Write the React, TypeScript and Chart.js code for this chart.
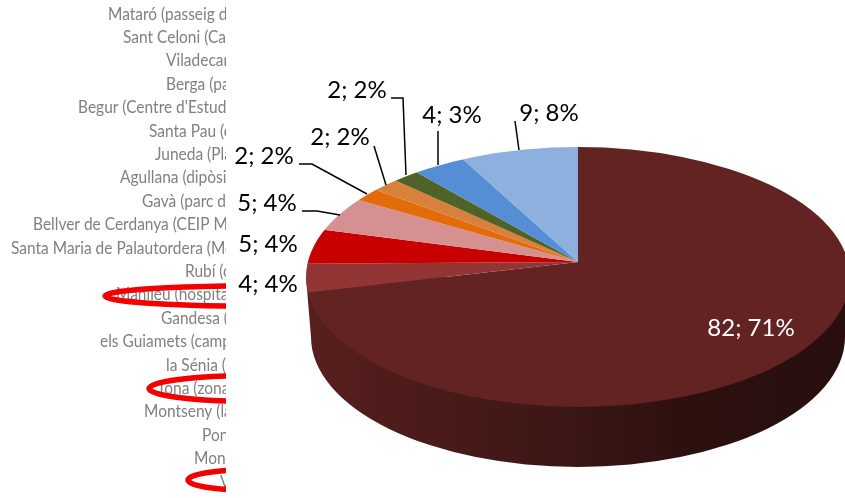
import React, { useEffect, useRef } from "react";
import { Chart, registerables } from "chart.js";

Chart.register(...registerables);

const sliceValues = [82, 4, 5, 5, 2, 2, 2, 4, 9];
const sliceColors = ["#622322", "#913535", "#c80000", "#d59092", "#e36c0a", "#d9813c", "#4f6228", "#558ed5", "#8db0df"];
const sliceLabels = ["82; 71%", "4; 4%", "5; 4%", "5; 4%", "2; 2%", "2; 2%", "2; 2%", "4; 3%", "9; 8%"];
const labelX = [751, 268, 268, 267, 264, 340, 357, 452, 549];
const labelY = [328, 284, 244, 203, 156, 137, 90, 115, 113];
const leaders: number[][][] = [
  [], [], [],
  [[302, 211], [317, 211], [340, 215]],
  [[299, 164], [312, 164], [367, 194]],
  [[374, 146], [386, 185]],
  [[391, 98], [403, 98], [406, 175]],
  [[438, 131], [438, 165]],
  [[515, 121], [519, 150]],
];

const stationNames = [
  "Mataró (passeig de", "Sant Celoni (Can", "Viladecans", "Berga (pa", "Begur (Centre d'Estudis",
  "Santa Pau (c", "Juneda (Pla", "Agullana (dipòsit", "Gavà (parc de", "Bellver de Cerdanya (CEIP Mo",
  "Santa Maria de Palautordera (Mo", "Rubí (c", "Manlleu (hospital", "Gandesa (c", "els Guiamets (camp",
  "la Sénia (c", "Tona (zona", "Montseny (la", "Pont", "Mont", "V",
];
const stationX = [108, 123, 166, 166, 78, 149, 155, 120, 142, 33, 11, 185, 116, 161, 100, 166, 157, 144, 202, 194, 220];
const circled = [
  { cx: 256, cy: 296, rx: 151, ry: 10.3 },
  { cx: 250, cy: 388.5, rx: 101, ry: 12.8 },
  { cx: 250, cy: 480, rx: 62, ry: 10.3 },
];

const W = 845, H = 498;
const APEX = { x: 578, y: 262 };
const TOP = { x: 578, y: 277, rx: 272, ry: 130 };
const BOTTOM = { x: 578, y: 337, rx: 267, ry: 130 };
const PIE_SCALE = 1.4, TILT = 0.478;
const PANEL_EDGE = 226;

const pie3d = {
  id: "pie3d",
  beforeDatasetsDraw(chart: any) {
    const ctx = chart.ctx;
    ctx.save();
    ctx.fillStyle = "#fff";
    ctx.fillRect(0, 0, W, H);

    ctx.save();
    ctx.beginPath();
    ctx.rect(0, 0, PANEL_EDGE, H);
    ctx.clip();
    ctx.font = "17.5px 'Lato'";
    ctx.fillStyle = "#808080";
    ctx.textAlign = "left";
    ctx.textBaseline = "middle";
    stationNames.forEach((n, i) => {
      ctx.save();
      ctx.translate(stationX[i], 14 + i * 23.4);
      ctx.scale(0.885, 1);
      ctx.fillText(n, 0, 0);
      ctx.restore();
    });
    ctx.strokeStyle = "#f40000";
    ctx.lineWidth = 5.5;
    circled.forEach((e) => {
      ctx.beginPath();
      ctx.ellipse(e.cx, e.cy, e.rx, e.ry, 0, 0, Math.PI * 2);
      ctx.stroke();
    });
    ctx.restore();

    const g = ctx.createLinearGradient(TOP.x - TOP.rx, 0, TOP.x + TOP.rx, 0);
    g.addColorStop(0, "#581f1e");
    g.addColorStop(0.5, "#3a1614");
    g.addColorStop(0.72, "#2b100e");
    g.addColorStop(1, "#280f0e");
    ctx.fillStyle = g;
    ctx.beginPath();
    ctx.moveTo(TOP.x - TOP.rx, TOP.y);
    ctx.lineTo(BOTTOM.x - BOTTOM.rx, BOTTOM.y);
    ctx.ellipse(BOTTOM.x, BOTTOM.y, BOTTOM.rx, BOTTOM.ry, 0, Math.PI, 0, true);
    ctx.lineTo(TOP.x + TOP.rx, TOP.y);
    ctx.closePath();
    ctx.fill();

    ctx.beginPath();
    ctx.ellipse(TOP.x, TOP.y, TOP.rx, TOP.ry, 0, 0, Math.PI * 2);
    ctx.clip();
    const c = { x: (chart.chartArea.left + chart.chartArea.right) / 2, y: (chart.chartArea.top + chart.chartArea.bottom) / 2 };
    ctx.translate(APEX.x, APEX.y);
    ctx.scale(PIE_SCALE, PIE_SCALE * TILT);
    ctx.translate(-c.x, -c.y);
  },
  afterDatasetsDraw(chart: any) {
    const ctx = chart.ctx;
    ctx.restore();
    ctx.save();
    ctx.font = "24px 'Lato'";
    ctx.textAlign = "center";
    ctx.textBaseline = "middle";
    sliceLabels.forEach((t, i) => {
      ctx.fillStyle = i === 0 ? "#ffffff" : "#000000";
      ctx.fillText(t, labelX[i], labelY[i]);
      const pts = leaders[i];
      if (pts.length) {
        ctx.strokeStyle = "#000";
        ctx.lineWidth = 1.5;
        ctx.beginPath();
        pts.forEach((p, k) => (k ? ctx.lineTo(p[0], p[1]) : ctx.moveTo(p[0], p[1])));
        ctx.stroke();
      }
    });
    ctx.restore();
  },
};

export default function App() {
  const ref = useRef<HTMLCanvasElement>(null);
  useEffect(() => {
    const chart = new Chart(ref.current!, {
      type: "pie",
      data: {
        labels: sliceLabels,
        datasets: [{ data: sliceValues, backgroundColor: sliceColors, borderWidth: 0 }],
      },
      options: {
        responsive: false,
        animation: false,
        events: [],
        layout: { padding: 0 },
        plugins: { legend: { display: false }, tooltip: { enabled: false } },
      },
      plugins: [pie3d],
    } as any);
    return () => chart.destroy();
  }, []);
  return (
    <canvas
      ref={ref}
      width={W}
      height={H}
      style={{ position: "absolute", left: 0, top: 0, display: "block", width: W, height: H }}
    />
  );
}
